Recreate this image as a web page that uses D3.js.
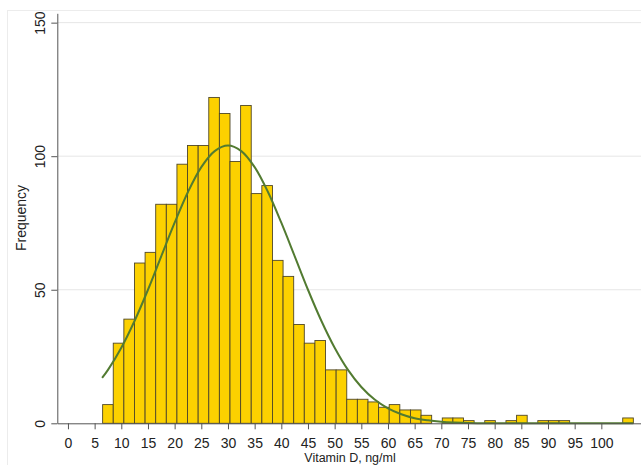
<!DOCTYPE html>
<html><head><meta charset="utf-8">
<script src="https://cdn.jsdelivr.net/npm/d3@7"></script>
<style>
body{margin:0;background:#fff}
svg{display:block}
text{font-family:"Liberation Sans",Arial,sans-serif}
</style>
</head><body>
<svg id="c" width="641" height="465"></svg>
<script>
// Histogram counts (bins of width binWidth starting at binStart)
const counts = [7,30,39,60,64,82,82,97,104,104,
                122,116,98,119,86,89,61,55,37,30,
                31,20,20,9,9,8,6,7,5,5,
                3,0,2,2,1,0,1,0,1,3,
                0,1,1,1,0,0,0,0,0,2];
const binStart = 6.5;
const binWidth = 1.99;
// Overlaid normal curve
const curveX = [6.4,7.5,10,12.5,15,17.5,20,22.5,25,27.5,30,32.5,35,37.5,40,42.5,45,47.5,50,52.5,55,57.5,60,62.5,65,67.5,70,72.5,75,80,90,100,106];
const curveY = [17,20,28.3,38.4,50,62.6,75.1,86.6,95.9,101.9,104,101.9,95.9,86.6,75.1,62.6,50,38.4,28.3,20,13.6,8.9,5.6,3.4,1.9,1.1,0.6,0.3,0.1,0,0,0,0];
const xTicks = [0,5,10,15,20,25,30,35,40,45,50,55,60,65,70,75,80,85,90,95,100];
const yTicks = [0,50,100,150];
const xTitle = "Vitamin D, ng/ml";
const yTitle = "Frequency";

const svg = d3.select("#c");
const x = d3.scaleLinear().domain([-2,108]).range([57.3,644]);
const y = d3.scaleLinear().domain([0,153.5]).range([423.3,13.3]);

// outer faint frame
svg.append("rect").attr("x",7.5).attr("y",10.5).attr("width",700).attr("height",500)
  .attr("fill","none").attr("stroke","#ececec");

// gridlines
svg.append("g").selectAll("line").data(yTicks.filter(d=>d>0)).join("line")
  .attr("x1",57.3).attr("x2",641).attr("y1",d=>y(d)).attr("y2",d=>y(d))
  .attr("stroke","#e6e6e6").attr("stroke-width",1);

// bars
const bins = counts.map((c,i)=>({x0:binStart+i*binWidth,x1:binStart+(i+1)*binWidth,c}));
svg.append("g").selectAll("rect").data(bins.filter(b=>b.c>0)).join("rect")
  .attr("x",d=>x(d.x0)).attr("width",d=>x(d.x1)-x(d.x0))
  .attr("y",d=>y(d.c)).attr("height",d=>y(0)-y(d.c))
  .attr("fill","#fcd100").attr("stroke","#4f4728").attr("stroke-width",0.9);

// normal curve
const pts = curveX.map((v,i)=>[v,curveY[i]]);
svg.append("path").datum(pts)
  .attr("d",d3.line().x(d=>x(d[0])).y(d=>y(d[1])).curve(d3.curveCatmullRom))
  .attr("fill","none").attr("stroke","#527b31").attr("stroke-width",2);

// x axis
const gx = svg.append("g").attr("transform",`translate(0,${y(0)})`)
  .call(d3.axisBottom(x).tickValues(xTicks).tickSize(6).tickSizeOuter(0));
gx.select(".domain").attr("stroke","#555");
gx.selectAll(".tick line").attr("stroke","#555");
gx.selectAll(".tick text").attr("y",24.5).attr("dy",0)
  .attr("font-size",14).attr("fill","#222")
  .style("font-family",'"Liberation Sans",Arial,sans-serif');

// y axis
const gy = svg.append("g").attr("transform",`translate(57.3,0)`)
  .call(d3.axisLeft(y).tickValues(yTicks).tickSize(6).tickSizeOuter(0));
gy.select(".domain").attr("stroke","#555");
gy.selectAll(".tick line").attr("stroke","#555");
gy.selectAll(".tick text").attr("x",0).attr("y",0).attr("dy",0)
  .attr("transform","translate(-12.3,0) rotate(-90)").attr("text-anchor","middle")
  .attr("font-size",14).attr("fill","#222")
  .style("font-family",'"Liberation Sans",Arial,sans-serif');

// titles
svg.append("text").attr("x",350).attr("y",462.3).attr("text-anchor","middle")
  .attr("font-size",12.5).attr("fill","#222").text(xTitle);
svg.append("text").attr("transform","translate(26,218) rotate(-90)").attr("text-anchor","middle")
  .attr("font-size",14).attr("fill","#222").text(yTitle);
</script>
</body></html>
